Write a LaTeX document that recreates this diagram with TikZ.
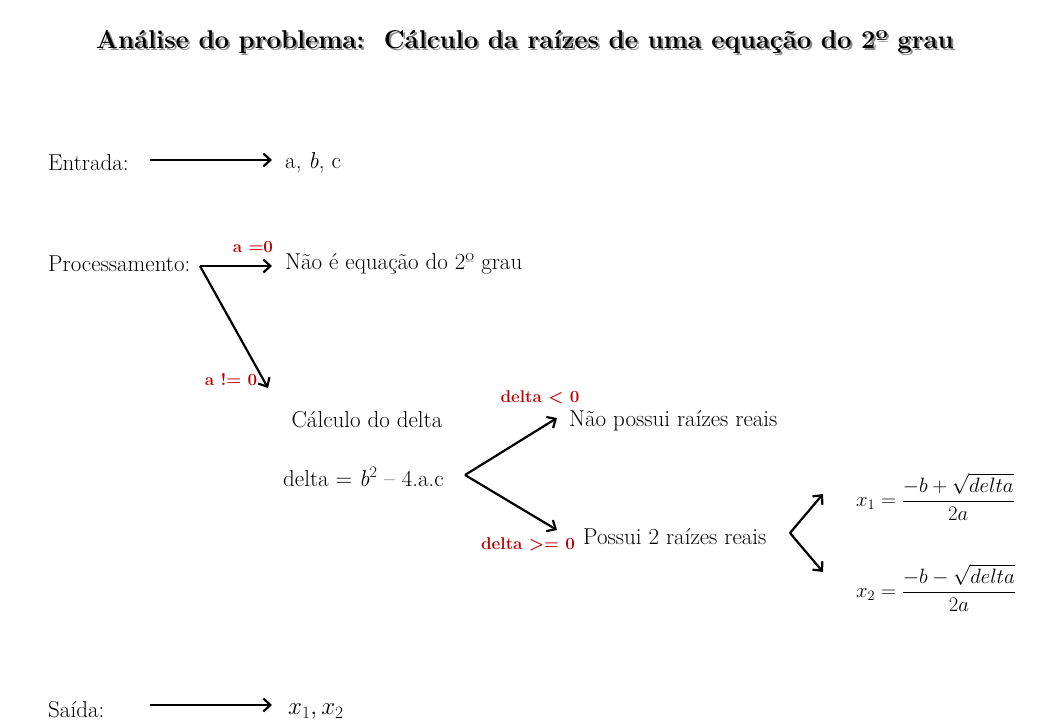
\documentclass[tikz,border=0pt]{standalone}
\usepackage{fontspec}
\usepackage{amsmath}
\usetikzlibrary{arrows.meta}
\definecolor{lblred}{HTML}{C00000}
\tikzset{
  txt/.style={anchor=west, inner sep=0pt, font=\fontsize{23}{27}\selectfont},
  lbl/.style={inner sep=0pt, text=lblred, font=\fontsize{17}{20}\selectfont\bfseries},
  arr/.style={line width=2.2pt, -{Straight Barb[length=7pt,width=13pt,line width=2.2pt]}},
  frm/.style={anchor=west, inner sep=0pt, font=\fontsize{22}{26}\selectfont},
}
\begin{document}
\begin{tikzpicture}[x=1pt,y=-1pt]
\useasboundingbox (0,0) rectangle (1037,727);
% title
\node (shadow) [text=black!45, font=\fontsize{25.7}{30}\selectfont\bfseries] at (527,44) {Análise do problema:\ \ Cálculo da raízes de uma equação do 2º grau};
\node (title) [font=\fontsize{25.7}{30}\selectfont\bfseries] at (525,42) {Análise do problema:\ \ Cálculo da raízes de uma equação do 2º grau};
% entrada
\node (entrada) [txt] at (48,163) {Entrada:};
\coordinate (e1) at (150,160);
\coordinate (e2) at (272,160);
\node (abc) [txt] at (285,163) {a, \textit{b}, c};
\draw[arr] (e1) -- (e2);
% processamento
\node (proc) [txt] at (48,264) {Processamento:};
\coordinate (p0) at (200,266);
\node (nao2) [txt] at (285,264) {Não é equação do 2º grau};
\coordinate (p1) at (272,266);
\draw[arr] (p0) -- (p1);
\node (lblA0) [lbl] at (253,247) {a =0};
\coordinate (p2) at (268,388);
\draw[arr] (p0) -- (p2);
\node (lblAn0) [lbl] at (231,380) {a != 0};
% delta
\node (calc) [txt, anchor=center] at (367,420) {Cálculo do delta};
\node (delta) [txt] at (283,477) {delta = \textit{b}\textsuperscript{2} -- 4.a.c};
\coordinate (d0) at (465,475);
\coordinate (d1) at (557,418);
\coordinate (d2) at (557,530);
\node (naopos) [txt] at (569,421) {Não possui raízes reais};
\node (pos) [txt] at (583,537) {Possui 2 raízes reais};
\draw[arr] (d0) -- (d1);
\draw[arr] (d0) -- (d2);
\node (lblDn) [lbl] at (540,397) {delta < 0};
\node (lblDp) [lbl] at (528,544) {delta >= 0};
% roots
\coordinate (r0) at (790,533);
\coordinate (r1) at (823,494);
\coordinate (r2) at (823,572);
\draw[arr] (r0) -- (r1);
\draw[arr] (r0) -- (r2);
\node (x1) [frm] at (856,497) {$x_1 = \dfrac{-b+\sqrt{delta}}{2a}$};
\node (x2) [frm] at (856,588) {$x_2 = \dfrac{-b-\sqrt{delta}}{2a}$};
% saida
\node (saida) [txt] at (48,710) {Saída:};
\coordinate (s1) at (150,705);
\coordinate (s2) at (272,705);
\node (xs) [txt] at (288,712) {$x_1, x_2$};
\draw[arr] (s1) -- (s2);
\end{tikzpicture}
\end{document}
